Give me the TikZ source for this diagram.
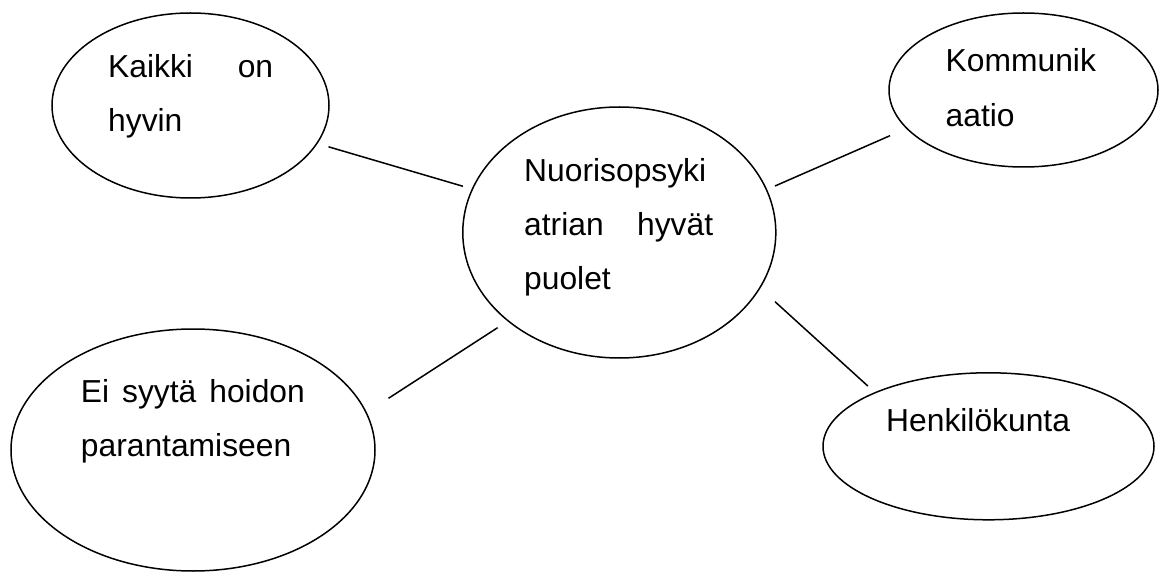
\documentclass[tikz,border=0pt]{standalone}
\usepackage{fontspec}
\setmainfont{Liberation Sans}
\usetikzlibrary{shapes.geometric}
\tikzset{
  bubble/.style={draw=black, line width=1.5pt, ellipse, inner sep=0pt},
  label/.style={anchor=base west, inner sep=0pt, font=\fontsize{31.8}{38}\selectfont},
  link/.style={draw=black, line width=1.5pt}
}
\begin{document}
\begin{tikzpicture}[x=1pt,y=-1pt]
\useasboundingbox (0,0) rectangle (1160,572);
% ellipses
\node[bubble, minimum width=277pt, minimum height=185pt] (tl) at (190.5,105.5) {};
\node[bubble, minimum width=313pt, minimum height=251pt] (c) at (619.3,232.5) {};
\node[bubble, minimum width=269pt, minimum height=154pt] (k) at (1023.5,90) {};
\node[bubble, minimum width=364pt, minimum height=242pt] (b) at (193,450) {};
\node[bubble, minimum width=331pt, minimum height=147pt] (h) at (988.5,446.3) {};
% texts
\node[label] (t1a) at (108,77.7) {\makebox[165pt][s]{Kaikki on}};
\node[label] (t1b) at (108,131.5) {hyvin};
\node[label] (t2a) at (524,181.7) {Nuorisopsyki};
\node[label] (t2b) at (524,236) {\makebox[189pt][s]{atrian hyvät}};
\node[label] (t2c) at (524,290) {puolet};
\node[label] (t3a) at (945.5,72) {Kommunik};
\node[label] (t3b) at (945.5,126.5) {aatio};
\node[label] (t4a) at (80.7,402.3) {\makebox[224pt][s]{Ei syytä hoidon}};
\node[label] (t4b) at (80.7,456) {parantamiseen};
\node[label] (t5a) at (886,431) {Henkilökunta};
% connector end points (lines stop short of the ellipses)
\coordinate (l1a) at (328.5,146.8);
\coordinate (l1b) at (463,186.3);
\coordinate (l2a) at (775,186);
\coordinate (l2b) at (890,135.7);
\coordinate (l3a) at (497.6,327.7);
\coordinate (l3b) at (388.5,398.3);
\coordinate (l4a) at (775,301.7);
\coordinate (l4b) at (867.8,386);
\draw[link] (l1a) -- (l1b);
\draw[link] (l2a) -- (l2b);
\draw[link] (l3a) -- (l3b);
\draw[link] (l4a) -- (l4b);
\end{tikzpicture}
\end{document}
